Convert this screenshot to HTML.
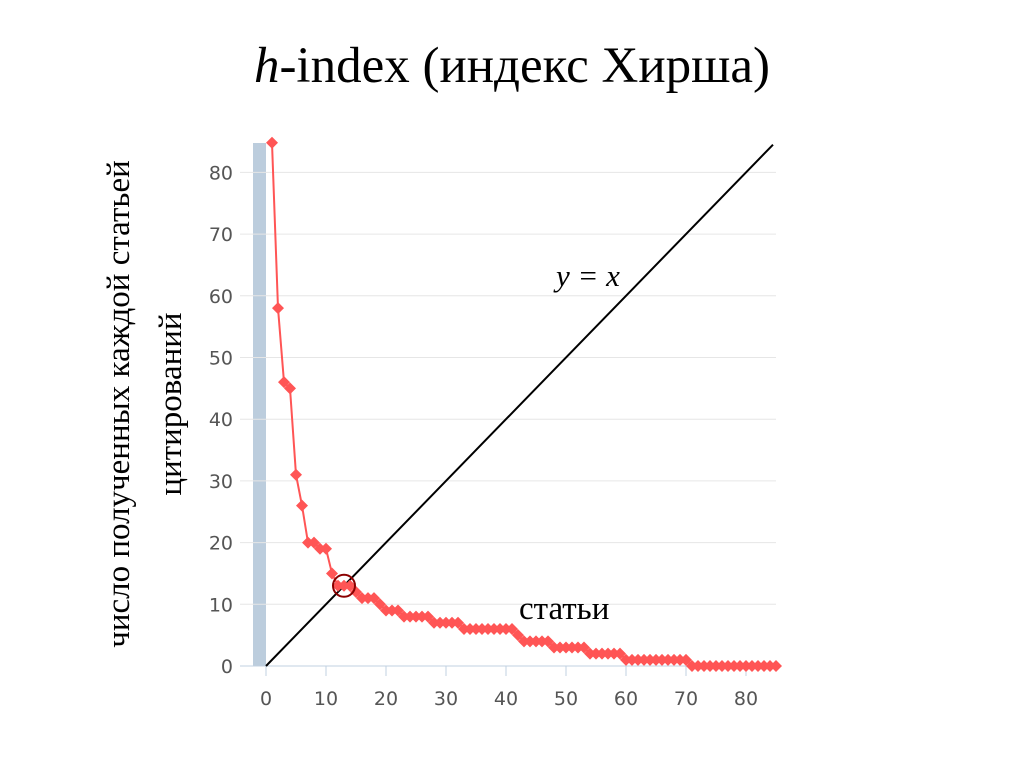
<!DOCTYPE html>
<html><head><meta charset="utf-8"><style>
body{margin:0;background:#fff;width:1024px;height:768px;overflow:hidden}
svg text{font-family:"Liberation Serif",serif}
</style></head><body>
<svg width="1024" height="768">
<text x="512" y="82" font-size="51" text-anchor="middle"><tspan font-style="italic">h</tspan>-index (индекс Хирша)</text>
<g transform="translate(144,404) rotate(-90)">
<text x="0" y="-15" font-size="33" text-anchor="middle">число полученных каждой статьей</text>
<text x="0" y="37" font-size="33" text-anchor="middle">цитирований</text>
</g>
<rect x="253" y="143" width="13" height="523" fill="#bccddd"/>
<g id="grid"></g><g id="ticks"></g>
<line id="diag" stroke="#000" stroke-width="2"/>
<polyline id="series" fill="none" stroke="#ff5555" stroke-width="2"/>
<g id="marks"></g>
<circle id="hcirc" r="11" fill="none" stroke="#8b0000" stroke-width="2"/>
<text x="556" y="286" font-size="31" font-style="italic">y = x</text>
<text x="519" y="619" font-size="33">статьи</text>
</svg>
<script>
const citations=[85,58,46,45,31,26,20,20,19,19,15,13,13,13,12,11,11,11,10,9,9,9,8,8,8,8,8,7,7,7,7,7,6,6,6,6,6,6,6,6,6,5,4,4,4,4,4,3,3,3,3,3,3,2,2,2,2,2,2,1,1,1,1,1,1,1,1,1,1,1,0,0,0,0,0,0,0,0,0,0,0,0,0,0,0];
const xTicks=[0,10,20,30,40,50,60,70,80];
const yTicks=[0,10,20,30,40,50,60,70,80];
const hIndex=13;
const X0=266,PX=6,Y0=666,PY=6.17,XMAX=85,YMAX=84.8;
const sx=v=>X0+v*PX, sy=v=>Y0-Math.min(v,YMAX)*PY;
const NS="http://www.w3.org/2000/svg";
const mk=(t,p,a)=>{const e=document.createElementNS(NS,t);for(const k in a)e.setAttribute(k,a[k]);p.appendChild(e);return e;};
const grid=document.getElementById('grid'),ticks=document.getElementById('ticks');
yTicks.forEach(v=>{
 const l=mk('line',grid,{x1:240,x2:776,y1:sy(v),y2:sy(v),stroke:v===0?'#c0d0e0':'#e6e6e6','stroke-width':1});
 
 
 const t=mk('text',ticks,{x:233,y:sy(v)+7,'font-size':19,fill:'#555','text-anchor':'end',style:'font-family:"DejaVu Sans",sans-serif'});
 t.textContent=v;
 
 
});
xTicks.forEach(v=>{
 const l=mk('line',grid,{x1:sx(v),x2:sx(v),y1:666,y2:676,stroke:'#c0d0e0'});
 
 
 const t=mk('text',ticks,{x:sx(v),y:705,'font-size':19,fill:'#555','text-anchor':'middle',style:'font-family:"DejaVu Sans",sans-serif'});
 t.textContent=v;
 
 
});
const d=document.getElementById('diag');
d.setAttribute('x1',sx(0));d.setAttribute('y1',sy(0));d.setAttribute('x2',sx(84.5));d.setAttribute('y2',Y0-84.5*PY);
document.getElementById('series').setAttribute('points',citations.map((c,i)=>sx(i+1)+','+sy(c)).join(' '));
const marks=document.getElementById('marks');
citations.forEach((c,i)=>{
 const x=sx(i+1),y=sy(c);
 const p=mk('polygon',marks,{points:`${x},${y-6} ${x+6},${y} ${x},${y+6} ${x-6},${y}`,fill:'#ff5555'});
 
 
});
const hc=document.getElementById('hcirc');
hc.setAttribute('cx',sx(hIndex));hc.setAttribute('cy',sy(hIndex));
</script>
</body></html>
